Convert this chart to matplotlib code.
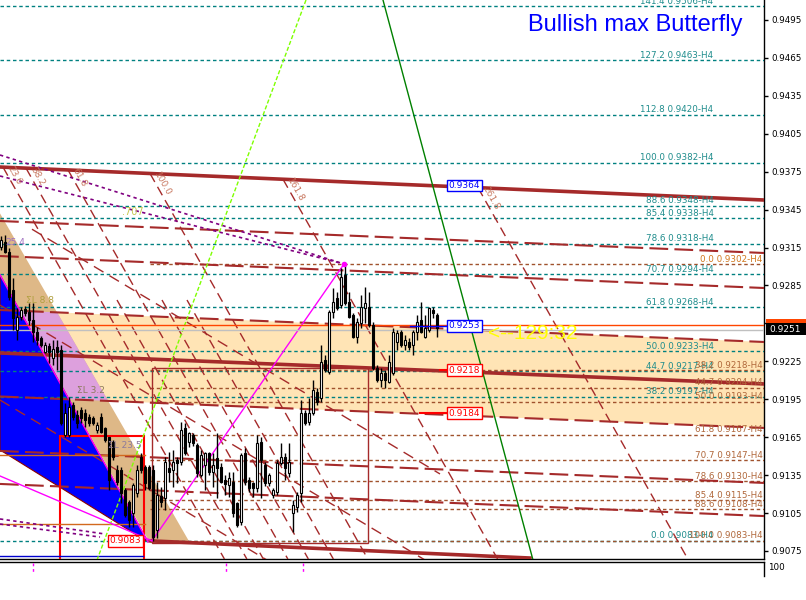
import matplotlib
matplotlib.use("Agg")
import matplotlib.pyplot as plt
from matplotlib.patches import Polygon, Rectangle
from matplotlib.lines import Line2D

plt.rcParams['font.family'] = ['DejaVu Sans']

# ---------------- candle data (bar index, prices) ----------------
opens = [0.93154, 0.93194, 0.93115, 0.92814, 0.92498, 0.92601, 0.92664, 0.92640, 0.92577, 0.92482,
         0.92434, 0.92324, 0.92371, 0.92276, 0.92363, 0.92339, 0.91668, 0.91668, 0.91904, 0.91826,
         0.91865, 0.91841, 0.91810, 0.91802, 0.91707, 0.91810, 0.91723, 0.91652, 0.91612, 0.91391,
         0.91391, 0.91233, 0.91138, 0.91050, 0.91209, 0.91494, 0.91415, 0.91415, 0.91391, 0.90916,
         0.91185, 0.91170, 0.91407, 0.91391, 0.91470, 0.91454, 0.91723, 0.91612, 0.91668, 0.91588,
         0.91351, 0.91430, 0.91525, 0.91375, 0.91486, 0.91415, 0.91312, 0.91272, 0.91296, 0.91130,
         0.90979, 0.91525, 0.91312, 0.91288, 0.91249, 0.91612, 0.91430, 0.91288, 0.91193, 0.91217,
         0.91446, 0.91494, 0.91367, 0.91050, 0.91098, 0.91209, 0.91841, 0.91770, 0.91841, 0.92007,
         0.91960, 0.92260, 0.92166, 0.92640, 0.92751, 0.92695, 0.92933, 0.92719, 0.92616, 0.92442,
         0.92553, 0.92672, 0.92680, 0.92537, 0.92197, 0.92103, 0.92158, 0.92087, 0.92158, 0.92403,
         0.92482, 0.92379, 0.92403, 0.92379, 0.92482, 0.92577, 0.92442, 0.92498, 0.92656, 0.92616]
highs = [0.93241, 0.93249, 0.93146, 0.92909, 0.92672, 0.92680, 0.92688, 0.92711, 0.92711, 0.92521,
         0.92450, 0.92403, 0.92395, 0.92418, 0.92418, 0.92379, 0.91920, 0.91968, 0.91928, 0.91865,
         0.91889, 0.91873, 0.91833, 0.91818, 0.91770, 0.91841, 0.91731, 0.91652, 0.91628, 0.91430,
         0.91415, 0.91249, 0.91154, 0.91288, 0.91430, 0.91525, 0.91430, 0.91430, 0.91430, 0.91296,
         0.91257, 0.91494, 0.91533, 0.91549, 0.91494, 0.91770, 0.91762, 0.91691, 0.91683, 0.91604,
         0.91549, 0.91533, 0.91533, 0.91525, 0.91683, 0.91446, 0.91351, 0.91375, 0.91375, 0.91138,
         0.91525, 0.91565, 0.91336, 0.91296, 0.91668, 0.91652, 0.91454, 0.91367, 0.91249, 0.91470,
         0.91604, 0.91525, 0.91604, 0.91154, 0.91217, 0.91944, 0.91865, 0.91960, 0.92103, 0.92039,
         0.92379, 0.92300, 0.92656, 0.92830, 0.92798, 0.92988, 0.93020, 0.92798, 0.92632, 0.92593,
         0.92775, 0.92838, 0.92798, 0.92561, 0.92221, 0.92197, 0.92182, 0.92300, 0.92514, 0.92498,
         0.92498, 0.92458, 0.92434, 0.92498, 0.92616, 0.92719, 0.92616, 0.92680, 0.92680, 0.92632]
lows = [0.93130, 0.93107, 0.92735, 0.92498, 0.92418, 0.92577, 0.92608, 0.92537, 0.92403, 0.92379,
        0.92363, 0.92316, 0.92237, 0.92221, 0.92182, 0.91747, 0.91652, 0.91652, 0.91786, 0.91723,
        0.91762, 0.91731, 0.91739, 0.91747, 0.91683, 0.91683, 0.91612, 0.91233, 0.91470, 0.91272,
        0.91130, 0.91019, 0.90939, 0.90939, 0.91177, 0.91367, 0.91233, 0.91233, 0.90830, 0.90853,
        0.91098, 0.91074, 0.91296, 0.91257, 0.91288, 0.91430, 0.91510, 0.91573, 0.91581, 0.91336,
        0.91336, 0.91233, 0.91351, 0.91257, 0.91170, 0.91288, 0.91193, 0.91177, 0.91019, 0.90939,
        0.90955, 0.91272, 0.91217, 0.91177, 0.91217, 0.91170, 0.91264, 0.91264, 0.91170, 0.91193,
        0.91430, 0.91312, 0.91336, 0.90900, 0.91058, 0.91138, 0.91747, 0.91747, 0.91826, 0.91904,
        0.91928, 0.92166, 0.92150, 0.92593, 0.92656, 0.92672, 0.92695, 0.92593, 0.92434, 0.92395,
        0.92514, 0.92553, 0.92521, 0.92182, 0.92087, 0.92047, 0.92039, 0.92079, 0.92142, 0.92339,
        0.92363, 0.92339, 0.92339, 0.92300, 0.92418, 0.92474, 0.92434, 0.92482, 0.92593, 0.92442]
closes = [0.93210, 0.93115, 0.92759, 0.92593, 0.92601, 0.92656, 0.92632, 0.92577, 0.92482, 0.92418,
          0.92379, 0.92379, 0.92324, 0.92347, 0.92324, 0.91762, 0.91841, 0.91889, 0.91810, 0.91762,
          0.91802, 0.91786, 0.91762, 0.91762, 0.91747, 0.91691, 0.91628, 0.91312, 0.91494, 0.91296,
          0.91209, 0.91035, 0.90995, 0.91272, 0.91391, 0.91391, 0.91288, 0.91249, 0.90860, 0.91193,
          0.91138, 0.91454, 0.91375, 0.91454, 0.91446, 0.91707, 0.91525, 0.91683, 0.91604, 0.91367,
          0.91510, 0.91525, 0.91375, 0.91430, 0.91407, 0.91296, 0.91280, 0.91328, 0.91050, 0.90955,
          0.91510, 0.91296, 0.91249, 0.91249, 0.91604, 0.91470, 0.91288, 0.91351, 0.91233, 0.91446,
          0.91494, 0.91407, 0.91454, 0.91114, 0.91193, 0.91841, 0.91762, 0.91841, 0.92023, 0.91928,
          0.92245, 0.92182, 0.92640, 0.92719, 0.92672, 0.92917, 0.92711, 0.92601, 0.92442, 0.92561,
          0.92680, 0.92711, 0.92537, 0.92197, 0.92103, 0.92158, 0.92103, 0.92245, 0.92482, 0.92474,
          0.92379, 0.92418, 0.92363, 0.92482, 0.92561, 0.92482, 0.92514, 0.92672, 0.92632, 0.92510]

# ---------------- Fibonacci levels ----------------
teal_ratios = ['141.4', '127.2', '112.8', '100.0', '88.6', '85.4', '78.6', '70.7', '61.8', '50.0', '44.7', '38.2', '0.0']
teal_prices = [0.9506, 0.9463, 0.9420, 0.9382, 0.9348, 0.9338, 0.9318, 0.9294, 0.9268, 0.9233, 0.9217, 0.9197, 0.9083]
brown_ratios = ['0.0', '38.2', '44.7', '50.0', '61.8', '70.7', '78.6', '85.4', '88.6', '100.0']
brown_prices = [0.9302, 0.9218, 0.9204, 0.9193, 0.9167, 0.9147, 0.9130, 0.9115, 0.9108, 0.9083]

# ---------------- right axis (0.9255 is hidden behind the price boxes) ----------------
ytick_vals = [0.9075, 0.9105, 0.9135, 0.9165, 0.9195, 0.9225, 0.9255, 0.9285, 0.9315,
              0.9345, 0.9375, 0.9405, 0.9435, 0.9465, 0.9495]
ytick_labels = ['0.9075', '0.9105', '0.9135', '0.9165', '0.9195', '0.9225', '', '0.9285', '0.9315',
                '0.9345', '0.9375', '0.9405', '0.9435', '0.9465', '0.9495']
bid_price = 0.9251
ask_price = 0.9254

# ---------------- drawing objects (bar, price) ----------------
channel_thick = [((0, 0.93787), (191, 0.93526)),
                 ((0, 0.92316), (191, 0.92071)),
                 ((37.5, 0.90830), (132.5, 0.90694))]
channel_dash = [((0, 0.93360), (191, 0.93107)),
                ((0, 0.93083), (191, 0.92830)),
                ((0, 0.92656), (191, 0.92403)),
                ((0, 0.91972), (191, 0.91723)),
                ((0, 0.91541), (191, 0.91288)),
                ((0, 0.91280), (191, 0.91026))]
peach_poly = [(0, 0.92656), (191, 0.92403), (191, 0.91723), (0, 0.91972)]
tan_poly = [(0, 0.93420), (47.5, 0.90813), (37.5, 0.90813), (0, 0.92933)]
blue_poly = [(0, 0.92933), (37, 0.90821), (0, 0.91549)]

fan_start = [0.75, 6.5, 17, 37.5, 70.75, 119.5]
fan_labels = ['23.6', '38.2', '61.8', '100.0', '161.8', '261.8']
fan_extra = [(29.25, 0.92735), (40.5, 0.92735), (46.75, 0.92735)]
fan_slope = -0.00056          # price per bar
shallow_lines = [((8, 0.93295), (110, 0.91359)),
                 ((0, 0.92695), (110, 0.90607)),
                 ((0, 0.91944), (70, 0.90616))]

fig = plt.figure(figsize=(8.06, 6.0), dpi=100)
fig.patch.set_facecolor('white')
ax = fig.add_axes([0, 41 / 600, 764 / 806, 559 / 600])
ax.set_facecolor('white')
ax.set_xlim(0, 191)
ax.set_ylim(0.906863, 0.951082)

BROWN = '#A52A2A'
TEAL = '#008080'

# fills
peach = Polygon(peach_poly, closed=True, fc='#FFE4B5', ec='none', zorder=1)
ax.add_patch(peach)
ax.add_patch(Polygon(tan_poly, closed=True, fc='#DEB887', ec='none', zorder=2))
pink = Polygon(tan_poly, closed=True, fc='#DDA0DD', ec='none', zorder=3)
ax.add_patch(pink)
pink.set_clip_path(peach)
ax.add_patch(Polygon(blue_poly, closed=True, fc='#0000FF', ec='#8B0000', lw=0.8, zorder=4))

# fibo levels
for r, p in zip(teal_ratios, teal_prices):
    ax.plot([0, 191], [p, p], color=TEAL, lw=1, ls=(0, (2.5, 2)), zorder=5)
    ax.text(178.4, p + 0.00003, f'{r} {p:.4f}-H4', color='#1E8C8C', fontsize=6.3,
            ha='right', va='bottom', zorder=12)
for r, p in zip(brown_ratios, brown_prices):
    ax.plot([37.5, 191], [p, p], color='#A0522D', lw=1, ls=(0, (2.5, 2)), zorder=5)
    col = '#D2781E' if r == '0.0' else '#B0673A'
    ax.text(190.7, p + 0.00003, f'{r} {p:.4f}-H4', color=col, fontsize=6.3,
            ha='right', va='bottom', zorder=12)

# steep fan lines
y_bottom = 0.906863
for x0, lab in zip(fan_start, fan_labels):
    y0 = channel_thick[0][0][1] + (channel_thick[0][1][1] - channel_thick[0][0][1]) * x0 / 191
    x1 = x0 + (y_bottom - y0) / fan_slope
    ax.plot([x0, x1], [y0, y_bottom], color=BROWN, lw=1, ls=(0, (7, 4)), zorder=5)
    ax.text(x0 + 0.6, y0 - 0.00012, lab, color='#C87860', fontsize=6.5, rotation=-60.5,
            rotation_mode='anchor', ha='left', va='bottom', zorder=12)
for x0, y0 in fan_extra:
    x1 = x0 + (y_bottom - y0) / fan_slope
    ax.plot([x0, x1], [y0, y_bottom], color=BROWN, lw=1, ls=(0, (7, 4)), zorder=5)
for (a, b) in shallow_lines:
    ax.plot([a[0], b[0]], [a[1], b[1]], color=BROWN, lw=1, ls=(0, (8, 5)), zorder=5)

# channel lines
for (a, b) in channel_dash:
    ax.plot([a[0], b[0]], [a[1], b[1]], color=BROWN, lw=1.5, ls=(0, (9, 3)), zorder=6)
for (a, b) in channel_thick:
    ax.plot([a[0], b[0]], [a[1], b[1]], color=BROWN, lw=2.6, zorder=6)

# rectangles
ax.add_patch(Rectangle((15, 0.9060), 21, 0.91659 - 0.9060, fill=False, ec='#FF0000', lw=1.5, zorder=6))
ax.add_patch(Rectangle((38, 0.90813), 54, 0.92197 - 0.90813, fill=False, ec=BROWN, lw=1, zorder=6))

# left horizontal helper lines
ax.plot([0, 36.25], [0.91510, 0.91510], color='#D2691E', lw=1, zorder=6)
ax.plot([0, 36.25], [0.90963, 0.90963], color='#D2691E', lw=1, zorder=6)
ax.plot([0, 35.75], [0.90710, 0.90710], color='#0000CD', lw=1, zorder=6)

# green / lime lines
ax.plot([95.75, 133.25], [0.95108, 0.90678], color='#008000', lw=1, zorder=7)
ax.plot([76.5, 24.25], [0.95108, 0.90678], color='#7FFF00', lw=1, ls=(0, (3, 1.5)), zorder=7)

# pattern lines
ax.plot([38, 86], [0.9083, 0.9302], color='#FF00FF', lw=1, zorder=7)
ax.plot([0, 38], [0.91343, 0.9083], color='#FF00FF', lw=1, zorder=7)
ax.plot([0, 37], [0.92933, 0.90821], color='#FF00FF', lw=1, zorder=7)
ax.plot([86], [0.9302], marker='o', ms=3, color='#FF00FF', zorder=9)
ax.plot([0, 86], [0.93882, 0.9302], color='#800080', lw=1.2, ls=(0, (2, 2)), zorder=7)
ax.plot([0, 86], [0.93716, 0.9302], color='#800080', lw=1.2, ls=(0, (2, 2)), zorder=7)
ax.plot([0, 26.25], [0.91003, 0.90884], color='#800080', lw=1.2, ls=(0, (2, 2)), zorder=7)
ax.plot([0, 25], [0.90963, 0.90860], color='#800080', lw=1.2, ls=(0, (2, 2)), zorder=7)

# bid / ask
ax.plot([0, 191], [0.92535, 0.92535], color='#FF4500', lw=1, zorder=7)
ax.plot([0, 191], [0.92500, 0.92500], color='#C0C0C0', lw=1, zorder=7)

# candles
for i, (o, h, l, c) in enumerate(zip(opens, highs, lows, closes)):
    x = i + 0.25
    ax.plot([x, x], [l, h], color='black', lw=1, zorder=8, solid_capstyle='butt')
    bottom = min(o, c)
    height = max(abs(c - o), 0.00002)
    fc = 'black' if c < o else 'white'
    ax.add_patch(Rectangle((x - 0.3, bottom), 0.6, height, fc=fc, ec='black', lw=0.8, zorder=9))

# price boxes
def pbox(x, y, s, col, ha='left'):
    ax.text(x, y, s, color=col, fontsize=6.5, ha=ha, va='center', zorder=13,
            bbox=dict(boxstyle='square,pad=0.15', fc='white', ec=col, lw=1))

ax.plot([102.5, 111.75], [0.92530, 0.92530], color='#0000FF', lw=1, zorder=12)
ax.plot([110, 111.75], [0.9218, 0.9218], color='#FF0000', lw=1.5, zorder=12)
ax.plot([105, 111.75], [0.9184, 0.9184], color='#FF0000', lw=1.5, zorder=12)
pbox(112.2, 0.9364, '0.9364', '#0000FF')
pbox(112.2, 0.92530, '0.9253', '#0000FF')
pbox(112.2, 0.9218, '0.9218', '#FF0000')
pbox(112.2, 0.9184, '0.9184', '#FF0000')
pbox(35.3, 0.9083, '0.9083', '#FF0000', ha='right')

# misc texts
ax.text(122, 0.92474, '<--129:32', color='#FFFF00', fontsize=15, family='Liberation Sans',
        ha='left', va='center', zorder=12)
ax.text(33.25, 0.93431, '.707', color='#C8C850', fontsize=7, ha='center', va='center', zorder=12)
ax.text(3.8, 0.93186, '25.4', color='#A070C0', fontsize=6.5, ha='center', va='center', zorder=12)
ax.text(10, 0.92728, 'ΣL 8.8', color='#B0A040', fontsize=6.5, ha='center', va='center', zorder=12)
ax.text(22.7, 0.92023, 'ΣL 3.2', color='#8C7A5C', fontsize=6.5, ha='center', va='center', zorder=12)
ax.text(31.2, 0.91581, 'ΣL 23.5', color='#8C7A9C', fontsize=6.5, ha='center', va='center', zorder=12)

# axes styling
ax.set_xticks([])
ax.yaxis.tick_right()
ax.set_yticks(ytick_vals)
ax.set_yticklabels(ytick_labels)
ax.tick_params(axis='y', direction='out', length=3, width=1, labelsize=6.3, pad=2, colors='black')
for s in ['top', 'left']:
    ax.spines[s].set_visible(False)
ax.spines['right'].set_color('black')
ax.spines['bottom'].set_color('black')
ax.spines['right'].set_linewidth(1)
ax.spines['bottom'].set_linewidth(1)

# title
fig.text(528 / 806, 1 - 25 / 600, 'Bullish max Butterfly', color='#0000FF', fontsize=17,
         family='Liberation Sans', ha='left', va='center')

# current price markers on the axis: ask (orange, mostly hidden) and bid (black)
fig.add_artist(Rectangle((766 / 806, 1 - 331 / 600), 40 / 806, 12 / 600,
                         transform=fig.transFigure, fc='#FF4500', ec='none'))
fig.add_artist(Rectangle((766 / 806, 1 - 335 / 600), 40 / 806, 12 / 600,
                         transform=fig.transFigure, fc='black', ec='none'))
fig.text(769 / 806, 1 - 329 / 600, f'{bid_price:.4f}', color='white', fontsize=6.5, ha='left',
         va='center')

# bottom separator / sub-window
fig.add_artist(Line2D([0, 764 / 806], [1 - 562 / 600, 1 - 562 / 600], color='black', lw=1))
fig.add_artist(Line2D([764 / 806, 764 / 806], [1 - 562 / 600, 1 - 576 / 600], color='black', lw=1))
fig.text(768 / 806, 1 - 567 / 600, '100', color='black', fontsize=6.3, ha='left', va='center')
for xp in [33, 226, 303]:
    fig.add_artist(Line2D([xp / 806, xp / 806], [1 - 563 / 600, 1 - 573 / 600], color='#FF00FF',
                          lw=1, ls=(0, (2, 2))))

fig.savefig('out.png', dpi=100, facecolor='white')
